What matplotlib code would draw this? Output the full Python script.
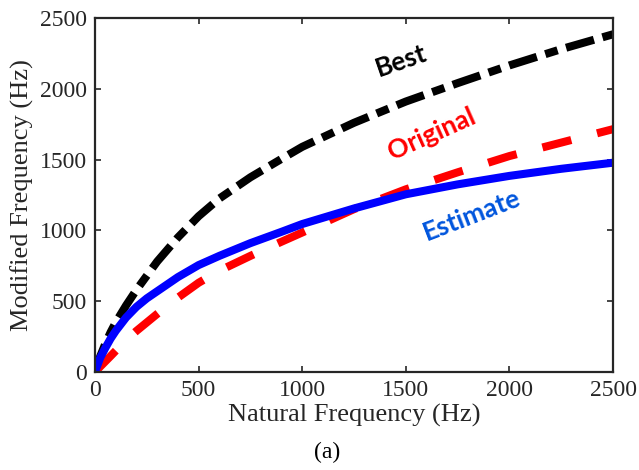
import numpy as np
import matplotlib
matplotlib.use("Agg")
import matplotlib.pyplot as plt

# ======================================================
# DATA
# ======================================================
natural_freq = [0, 25, 50, 75, 100, 150, 200, 250, 300, 400, 500, 600, 750,
                900, 1000, 1250, 1500, 1750, 2000, 2250, 2500]

best = [0, 110, 200, 280, 350, 470, 580, 680, 780, 950, 1100, 1225, 1375,
        1505, 1590, 1760, 1910, 2040, 2165, 2280, 2385]
original = [0, 38, 75, 112, 150, 225, 290, 350, 410, 525, 630, 715, 820,
            920, 985, 1150, 1290, 1410, 1525, 1620, 1715]
estimate = [0, 100, 170, 235, 290, 385, 460, 520, 570, 670, 755, 820, 910,
            990, 1045, 1155, 1255, 1325, 1385, 1435, 1478]

x_ticks = [0, 500, 1000, 1500, 2000, 2500]
y_ticks = [0, 500, 1000, 1500, 2000, 2500]

labels = ["Best", "Original", "Estimate"]

# ======================================================
# PLOTTING
# ======================================================
plt.rcParams["font.family"] = ["Liberation Serif", "DejaVu Serif"]
GRAY = "#262626"

fig = plt.figure(figsize=(6.39, 4.70), dpi=100)
ax = fig.add_axes([95 / 639, 1 - 372 / 470, 518 / 639, 354 / 470])

ax.plot(natural_freq, best, color="black", lw=5.8,
        dashes=(3.6, 1.1, 1.6, 1.1), dash_capstyle="butt", solid_joinstyle="round")
ax.plot(natural_freq, original, color="red", lw=5.8,
        dashes=(3.7, 3.3), dash_capstyle="butt")
ax.plot(natural_freq, estimate, color="blue", lw=5.8,
        solid_capstyle="butt", solid_joinstyle="round")

ax.set_xlim(0, 2500)
ax.set_ylim(0, 2500)
ax.set_xticks(x_ticks)
ax.set_yticks(y_ticks)

ax.tick_params(direction="in", length=4, width=1.2, colors=GRAY,
               labelsize=17, top=True, right=True, pad=6)
for sp in ax.spines.values():
    sp.set_color(GRAY)
    sp.set_linewidth(1.6)

ax.set_xlabel("Natural Frequency (Hz)", fontsize=19, color=GRAY, labelpad=2)
ax.set_ylabel("Modified Frequency (Hz)", fontsize=19, color=GRAY, labelpad=4)

# curve labels
lab_font = dict(family=["Lato", "DejaVu Sans"], fontweight="bold", fontsize=19,
                ha="center", va="center")
ax.text(1476, 2196, labels[0], color="black", rotation=19, **lab_font)
ax.text(1626, 1677, labels[1], color="red", rotation=24, **lab_font)
ax.text(1820, 1109, labels[2], color="#0055dd", rotation=21, **lab_font)

fig.text(327 / 639, 1 - 452 / 470, "(a)", fontsize=17, color="black",
         ha="center", va="center")

fig.savefig("out.png", dpi=100)
